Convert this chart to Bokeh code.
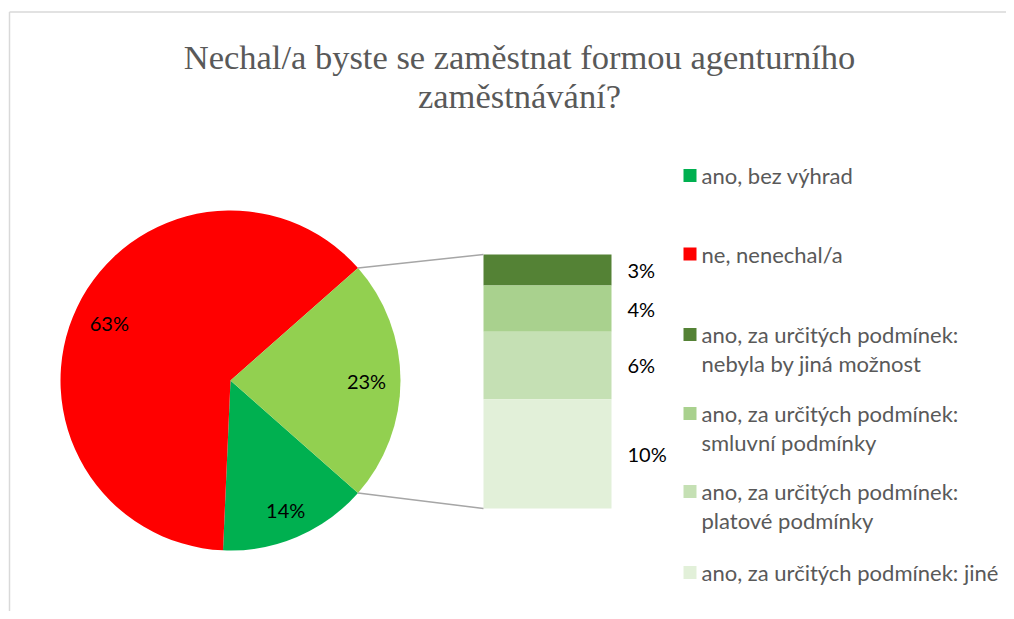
import numpy as np
from bokeh.plotting import figure
from bokeh.models import Range1d
from bokeh.core.properties import value
from bokeh.embed import file_html
from bokeh.resources import INLINE

title_lines = ["Nechal/a byste se zaměstnat formou agenturního", "zaměstnávání?"]

pie_labels = ["ano, bez výhrad", "ne, nenechal/a"]
pie_values = [14.2, 62.8]
pie_colors = ["#00B050", "#FF0000"]
other_color = "#92D050"

bar_labels = ["ano, za určitých podmínek:\nnebyla by jiná možnost",
              "ano, za určitých podmínek:\nsmluvní podmínky",
              "ano, za určitých podmínek:\nplatové podmínky",
              "ano, za určitých podmínek: jiné"]
bar_values = [2.8, 4.2, 6.1, 9.9]
bar_colors = ["#548235", "#A9D18E", "#C5E0B4", "#E2F0D9"]

W, H = 1006, 611
p = figure(width=W, height=H, x_range=Range1d(0, W), y_range=Range1d(0, H),
           output_backend="svg", toolbar_location=None,
           min_border=0, min_border_left=0, min_border_right=0,
           min_border_top=0, min_border_bottom=0)
p.axis.visible = False
p.grid.visible = False
p.outline_line_color = None
p.background_fill_color = "white"
p.border_fill_color = "white"

# the page renders the figure at the window origin: map page pixels directly
def Y(page_y):
    return H - page_y

def X(page_x):
    return page_x

# chart border (left and top visible)
p.line([X(9), X(9)], [Y(619), Y(11.5)], line_color="#D9D9D9", line_width=1.5)
p.line([X(9), X(1014)], [Y(11.5), Y(11.5)], line_color="#D9D9D9", line_width=1.5)

# title
font_title = value("Liberation Serif")
p.text(x=[X(519), X(519)], y=[Y(56), Y(95)], text=title_lines,
       text_font=font_title, text_font_size="34.5px", text_color="#595959",
       text_align="center", text_baseline="middle")

# pie
cx, cy, R = X(230), Y(380), 170
total = sum(pie_values) + sum(bar_values)
other = sum(bar_values)
other_ang = other / total * 2 * np.pi
starts, ends = [], []
cur = -other_ang / 2  # clockwise from the lower edge of the "other" slice
for v in pie_values:
    a = v / total * 2 * np.pi
    ends.append(cur)
    starts.append(cur - a)
    cur -= a
p.wedge(x=cx, y=cy, radius=R, radius_units="screen",
        start_angle=starts, end_angle=ends, fill_color=pie_colors, line_color=None)
p.wedge(x=cx, y=cy, radius=R, radius_units="screen",
        start_angle=-other_ang / 2, end_angle=other_ang / 2,
        fill_color=other_color, line_color=None)

# pie labels
lab_r = [0.83, 0.79]
lx, ly, lt = [], [], []
for s, e, v, rr in zip(starts, ends, pie_values, lab_r):
    m = (s + e) / 2
    lx.append(cx + rr * R * np.cos(m))
    ly.append(cy + rr * R * np.sin(m))
    lt.append(f"{round(v)}%")
lx.append(cx + 0.8 * R)
ly.append(cy)
lt.append(f"{round(other)}%")
font_lab = value("Lato")
p.text(x=lx, y=ly, text=lt, text_font=font_lab, text_font_size="20px",
       text_color="#000000", text_align="center", text_baseline="middle")

# bar of pie
bx0, bx1 = X(483), X(611)
by_bottom, by_top = Y(508), Y(254)
scale = (by_top - by_bottom) / other
tops = by_top - np.cumsum([0] + bar_values[:-1]) * scale
bottoms = tops - np.array(bar_values) * scale
p.quad(left=bx0, right=bx1, top=tops, bottom=bottoms,
       fill_color=bar_colors, line_color=None)
p.text(x=[bx1 + 16] * len(bar_values), y=(tops + bottoms) / 2,
       text=[f"{round(v)}%" for v in bar_values],
       text_font=font_lab, text_font_size="20px", text_color="#000000",
       text_align="left", text_baseline="middle")

# connector lines
ang = other_ang / 2
p.line([cx + R * np.cos(ang), bx0], [cy + R * np.sin(ang), by_top],
       line_color="#A6A6A6", line_width=1.5)
p.line([cx + R * np.cos(-ang), bx0], [cy + R * np.sin(-ang), by_bottom],
       line_color="#A6A6A6", line_width=1.5)

# legend
leg_labels = pie_labels + bar_labels
leg_colors = pie_colors + bar_colors
leg_y = [175, 253.5, 334, 413, 491, 572]
line_gap = 29
sq = 13
for lab, col, yy in zip(leg_labels, leg_colors, leg_y):
    p.rect(x=X(689.5), y=Y(yy), width=sq, height=sq, width_units="screen",
           height_units="screen", fill_color=col, line_color=None)
    lines = lab.split("\n")
    p.text(x=[X(701)] * len(lines), y=[Y(yy + i * line_gap) for i in range(len(lines))],
           text=lines, text_font=font_lab, text_font_size="22px",
           text_color="#595959", text_align="left", text_baseline="middle")

open("out.html", "w").write(file_html(p, INLINE))
